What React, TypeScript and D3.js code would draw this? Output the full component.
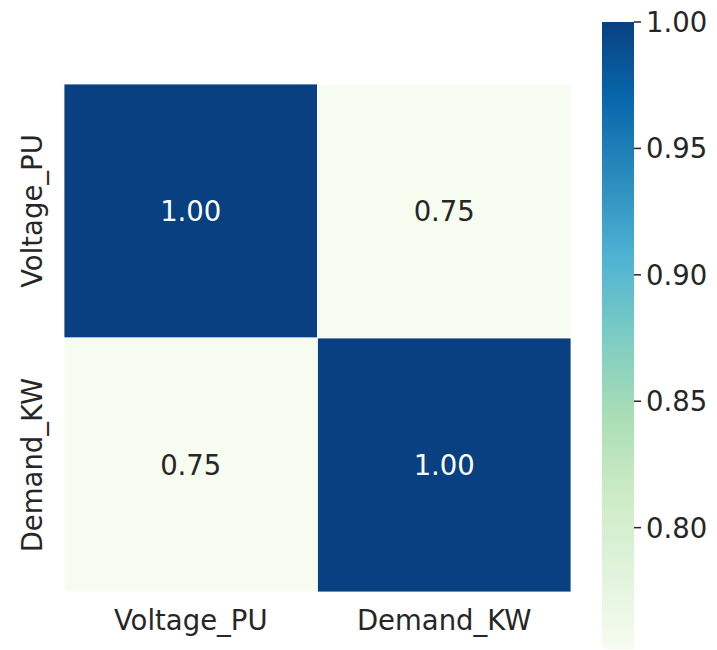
import React from "react";
import * as d3 from "d3";

const labels = ["Voltage_PU", "Demand_KW"];
const matrix = [
  [1.0, 0.752],
  [0.752, 1.0],
];
const cbTicks = [0.8, 0.85, 0.9, 0.95, 1.0];
const vmin = 0.752;
const vmax = 1.0;
const gnbu = ["#f7fcf0", "#e0f3db", "#ccebc5", "#a8ddb5", "#7bccc4", "#4eb3d3", "#2b8cbe", "#0868ac", "#084081"];

export default function App() {
  const W = 717, H = 650;
  const hmLeft = 64, hmRight = 571, hmTop = 84, hmBottom = 592;
  const x = d3.scaleBand<string>().domain(labels).range([hmLeft, hmRight]);
  const y = d3.scaleBand<string>().domain(labels).range([hmTop, hmBottom]);
  const cmap = d3
    .scaleLinear<string>()
    .domain(gnbu.map((_, i) => vmin + ((vmax - vmin) * i) / (gnbu.length - 1)))
    .range(gnbu)
    .interpolate(d3.interpolateRgb)
    .clamp(true);
  const cbX = 602, cbW = 32, cbTop = 22, cbBottom = 649;
  const cy = d3.scaleLinear().domain([vmin, vmax]).range([cbBottom, cbTop]);
  const stops = d3.range(0, 101).map((i) => i / 100);
  const font = "'DejaVu Sans', sans-serif";
  const textColor = "#262626";
  const fs = 27.5;

  return (
    <svg width={W} height={H} style={{ position: "absolute", left: 0, top: 0 }} fontFamily={font}>
      <defs>
        <linearGradient id="cbgrad" x1="0" y1="1" x2="0" y2="0">
          {stops.map((t) => (
            <stop key={t} offset={t} stopColor={cmap(vmin + t * (vmax - vmin))} />
          ))}
        </linearGradient>
      </defs>
      {matrix.map((row, i) =>
        row.map((v, j) => (
          <g key={`${i}-${j}`}>
            <rect
              x={x(labels[j])}
              y={y(labels[i])}
              width={x.bandwidth()}
              height={y.bandwidth()}
              fill={cmap(v)}
              stroke="white"
              strokeWidth={0.8}
            />
            <text
              x={(x(labels[j]) as number) + x.bandwidth() / 2}
              y={(y(labels[i]) as number) + y.bandwidth() / 2}
              textAnchor="middle"
              dominantBaseline="central"
              fontSize={fs}
              fill={v > 0.875 ? "#ffffff" : textColor}
            >
              {v.toFixed(2)}
            </text>
          </g>
        ))
      )}
      {labels.map((l) => (
        <text
          key={"x" + l}
          x={(x(l) as number) + x.bandwidth() / 2}
          y={hmBottom + 38}
          textAnchor="middle"
          fontSize={fs}
          fill={textColor}
        >
          {l}
        </text>
      ))}
      {labels.map((l) => {
        const cyv = (y(l) as number) + y.bandwidth() / 2;
        return (
          <text
            key={"y" + l}
            transform={`translate(${hmLeft - 22},${cyv}) rotate(-90)`}
            textAnchor="middle"
            fontSize={fs}
            fill={textColor}
          >
            {l}
          </text>
        );
      })}
      <rect x={cbX} y={cbTop} width={cbW} height={cbBottom - cbTop} fill="url(#cbgrad)" />
      {cbTicks.map((t) => (
        <g key={t} transform={`translate(0,${cy(t)})`}>
          <line x1={cbX + cbW} x2={cbX + cbW + 7} stroke={textColor} strokeWidth={1.5} />
          <text x={cbX + cbW + 12} dominantBaseline="central" fontSize={fs} fill={textColor}>
            {t.toFixed(2)}
          </text>
        </g>
      ))}
    </svg>
  );
}
